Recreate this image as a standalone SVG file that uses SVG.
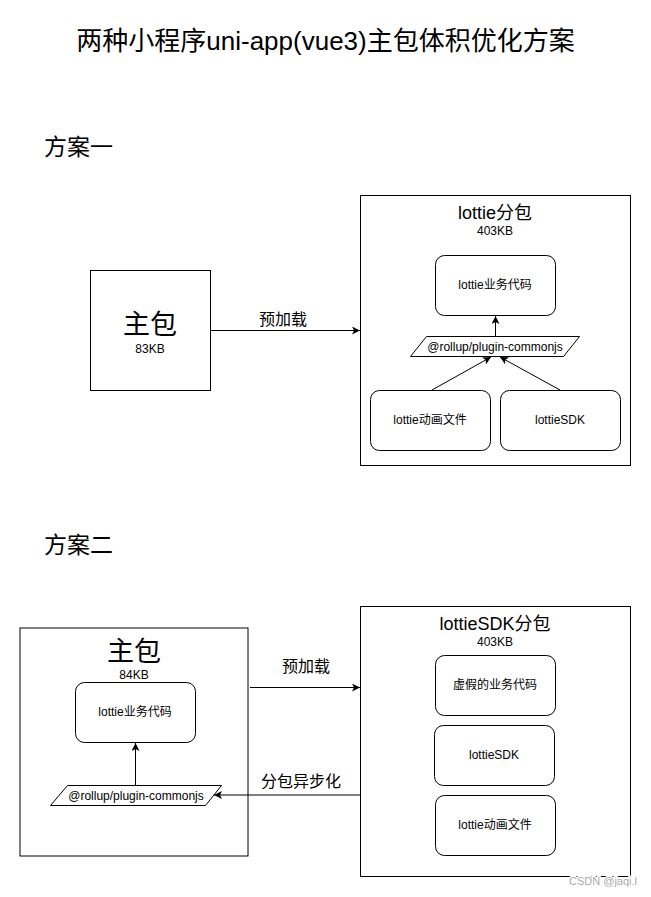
<svg xmlns="http://www.w3.org/2000/svg" width="651" height="897" viewBox="0 0 651 897">
<style>
text{font-family:"Liberation Sans","Noto Sans CJK SC",sans-serif;fill:#000;text-anchor:middle}
.box{fill:#fff;stroke:#000;stroke-width:1}
.rbox{fill:#fff;stroke:#000;stroke-width:1}
.edge{fill:none;stroke:#000;stroke-width:1}
.t12{font-size:12px}
.t16{font-size:16px}
.t18{font-size:18px}
.big{font-size:27px}
.sec{font-size:23px;text-anchor:start}
</style>
<defs>
<marker id="arr" markerUnits="userSpaceOnUse" markerWidth="10" markerHeight="10" refX="8" refY="4" orient="auto">
<path d="M0,0 L8,4 L0,8 L2,4 Z" fill="#000"/>
</marker>
</defs>
<rect width="651" height="897" fill="#fff"/>
<text x="325.5" y="50" style="font-size:26px">两种小程序uni-app(vue3)主包体积优化方案</text>
<text class="sec" x="44" y="155">方案一</text>
<text class="sec" x="44" y="553">方案二</text>

<g id="s1-main">
<rect class="box" x="90.5" y="270.5" width="120" height="120"/>
<text class="big" x="150" y="334">主包</text>
<text class="t12" x="150" y="353">83KB</text>
</g>
<g id="s1-sub">
<rect class="box" x="360.5" y="195.5" width="270" height="270"/>
<text class="t18" x="495" y="219">lottie分包</text>
<text class="t12" x="495" y="235">403KB</text>
</g>
<g id="s1-biz">
<rect class="rbox" x="435.5" y="255.5" width="120" height="60" rx="9"/>
<text class="t12" x="495" y="289">lottie业务代码</text>
</g>
<g id="s1-commonjs">
<path class="box" d="M426.5,336.5 L579.5,336.5 L563.5,356.5 L410.5,356.5 Z"/>
<text class="t12" x="495" y="351">@rollup/plugin-commonjs</text>
</g>
<g id="s1-anim">
<rect class="rbox" x="370.5" y="390.5" width="120" height="60" rx="9"/>
<text class="t12" x="430" y="424">lottie动画文件</text>
</g>
<g id="s1-sdk">
<rect class="rbox" x="500.5" y="390.5" width="120" height="60" rx="9"/>
<text class="t12" x="560" y="424">lottieSDK</text>
</g>

<g id="s2-main">
<rect class="box" x="20" y="628" width="228" height="228"/>
<text class="big" x="134" y="661">主包</text>
<text class="t12" x="134" y="679">84KB</text>
</g>
<g id="s2-biz">
<rect class="rbox" x="75.5" y="682.5" width="120" height="60" rx="9"/>
<text class="t12" x="135" y="716">lottie业务代码</text>
</g>
<g id="s2-commonjs">
<path class="box" d="M67.5,785.5 L221.5,785.5 L205.5,805.5 L50.5,805.5 Z"/>
<text class="t12" x="136" y="800">@rollup/plugin-commonjs</text>
</g>
<g id="s2-sub">
<rect class="box" x="360.5" y="606.5" width="270" height="270"/>
<text class="t18" x="495" y="630">lottieSDK分包</text>
<text class="t12" x="495" y="646">403KB</text>
</g>
<g id="s2-fake">
<rect class="rbox" x="435.5" y="655.5" width="120" height="60" rx="9"/>
<text class="t12" x="495" y="689">虚假的业务代码</text>
</g>
<g id="s2-sdk">
<rect class="rbox" x="434.5" y="725.5" width="120" height="60" rx="9"/>
<text class="t12" x="494" y="759">lottieSDK</text>
</g>
<g id="s2-anim">
<rect class="rbox" x="435.5" y="795.5" width="120" height="60" rx="9"/>
<text class="t12" x="495" y="829">lottie动画文件</text>
</g>

<g id="connectors">
<line class="edge" x1="210.5" y1="330.5" x2="360" y2="330.5" marker-end="url(#arr)"/>
<text class="t16" x="283" y="325">预加载</text>
<line class="edge" x1="495.5" y1="336" x2="495.5" y2="316" marker-end="url(#arr)"/>
<line class="edge" x1="432" y1="390" x2="491" y2="357" marker-end="url(#arr)"/>
<line class="edge" x1="560" y1="390" x2="500" y2="357" marker-end="url(#arr)"/>
<line class="edge" x1="135.5" y1="785" x2="135.5" y2="743" marker-end="url(#arr)"/>
<line class="edge" x1="250" y1="687.5" x2="360" y2="687.5" marker-end="url(#arr)"/>
<text class="t16" x="306" y="672">预加载</text>
<line class="edge" x1="360" y1="795" x2="214" y2="795" marker-end="url(#arr)"/>
<text class="t16" x="301" y="787">分包异步化</text>
</g>

<text x="603" y="885" style="font-size:11px;fill:#aaa;stroke:#fff;stroke-width:3;paint-order:stroke">CSDN @jaqi.l</text>
</svg>
